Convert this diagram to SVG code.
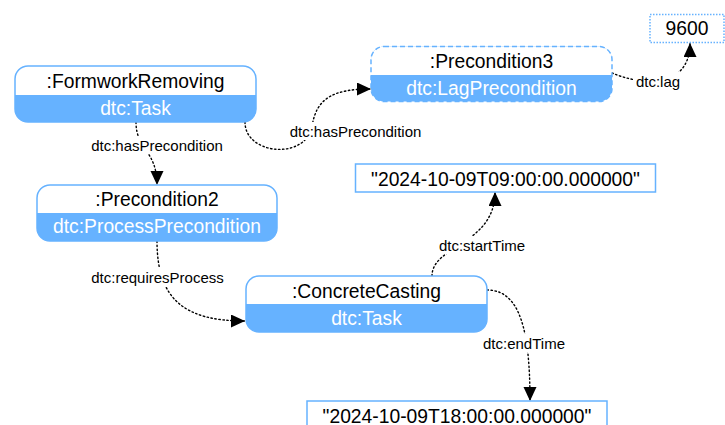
<svg xmlns="http://www.w3.org/2000/svg" width="725" height="425" viewBox="0 0 725 425">
<defs>
<style>
.band{fill:#66b2ff}
.top{fill:#ffffff}
.border{fill:none;stroke:#66b2ff;stroke-width:1.5}
.dashed{stroke-dasharray:5 3}
.dotted{stroke-dasharray:1.5 1.5}
.title{font-family:"Liberation Sans",Arial,sans-serif;font-size:19.3px;fill:#000;text-anchor:middle}
.sub{font-family:"Liberation Sans",Arial,sans-serif;font-size:19.3px;fill:#ffffff;text-anchor:middle}
.lit{fill:#ffffff;stroke:#66b2ff;stroke-width:1.5}
.edge{fill:none;stroke:#000;stroke-width:1.4;stroke-dasharray:1.4 2.6;stroke-linecap:round}
.lbg{fill:#ffffff}
.elabel{font-family:"Liberation Sans",Arial,sans-serif;font-size:15px;fill:#000;text-anchor:middle}
</style>
<marker id="arr" markerUnits="userSpaceOnUse" markerWidth="15" markerHeight="14" refX="14" refY="6.5" orient="auto">
<path d="M0,0 L14,6.5 L0,13 z" fill="#000"/>
</marker>
</defs>
<rect width="725" height="425" fill="#ffffff"/>

<g id="connectors">
<path class="edge" d="M136,122 C136,150 157,150 157,185" marker-end="url(#arr)"/>
<path class="edge" d="M245,122 C245,155 305,160 312,127 C316,97 335,89 371,89" marker-end="url(#arr)"/>
<path class="edge" d="M612,73 C640,85 690,90 690,43" marker-end="url(#arr)"/>
<path class="edge" d="M157,241 C157,300 185,321 245,321" marker-end="url(#arr)"/>
<path class="edge" d="M432,276 C432,245 495,245 495,192" marker-end="url(#arr)"/>
<path class="edge" d="M487,290 C520,290 530,330 530,401" marker-end="url(#arr)"/>
<rect class="lbg" x="90" y="136" width="134" height="18"/>
<text class="elabel" x="157" y="150.5">dtc:hasPrecondition</text>
<rect class="lbg" x="288" y="122" width="135" height="18"/>
<text class="elabel" x="355.5" y="136.5">dtc:hasPrecondition</text>
<rect class="lbg" x="634" y="72" width="48" height="18"/>
<text class="elabel" x="658" y="86.5">dtc:lag</text>
<rect class="lbg" x="90" y="268" width="135" height="18"/>
<text class="elabel" x="157.5" y="282.5">dtc:requiresProcess</text>
<rect class="lbg" x="438" y="236" width="88" height="18"/>
<text class="elabel" x="482" y="250.5">dtc:startTime</text>
<rect class="lbg" x="481" y="334" width="86" height="18"/>
<text class="elabel" x="524" y="348.5">dtc:endTime</text>
</g>

<g id="FormworkRemoving">
<rect class="band" x="15" y="66" width="241" height="56" rx="13"/>
<path class="top" d="M15,95 V79 A13,13 0 0 1 28,66 H243 A13,13 0 0 1 256,79 V95 Z"/>
<rect class="border" x="15" y="66" width="241" height="56" rx="13"/>
<text class="title" x="135.5" y="87.5">:FormworkRemoving</text>
<text class="sub" x="135.5" y="115">dtc:Task</text>
</g>

<g id="Precondition2">
<rect class="band" x="37" y="185" width="240" height="56" rx="13"/>
<path class="top" d="M37,213 V198 A13,13 0 0 1 50,185 H264 A13,13 0 0 1 277,198 V213 Z"/>
<rect class="border" x="37" y="185" width="240" height="56" rx="13"/>
<text class="title" x="157" y="206">:Precondition2</text>
<text class="sub" x="157" y="233">dtc:ProcessPrecondition</text>
</g>

<g id="Precondition3">
<rect class="band" x="371" y="46.5" width="241" height="55" rx="13"/>
<path class="top" d="M371,75 V59.5 A13,13 0 0 1 384,46.5 H599 A13,13 0 0 1 612,59.5 V75 Z"/>
<rect class="border dashed" x="371" y="46.5" width="241" height="55" rx="13"/>
<text class="title" x="491.5" y="67.5">:Precondition3</text>
<text class="sub" x="491.5" y="95">dtc:LagPrecondition</text>
</g>

<g id="ConcreteCasting">
<rect class="band" x="246" y="276" width="241" height="56" rx="13"/>
<path class="top" d="M246,304 V289 A13,13 0 0 1 259,276 H474 A13,13 0 0 1 487,289 V304 Z"/>
<rect class="border" x="246" y="276" width="241" height="56" rx="13"/>
<text class="title" x="366.5" y="297.5">:ConcreteCasting</text>
<text class="sub" x="366.5" y="325">dtc:Task</text>
</g>

<g id="lag9600">
<rect class="lit dotted" x="650" y="14.5" width="74" height="28"/>
<text class="title" x="687" y="35">9600</text>
</g>

<g id="startTimeLiteral">
<rect class="lit" x="355.5" y="164" width="300" height="28"/>
<text class="title" x="505.5" y="185.5">"2024-10-09T09:00:00.000000"</text>
</g>

<g id="endTimeLiteral">
<rect class="lit" x="307" y="401" width="300" height="28"/>
<text class="title" x="457" y="422.5">"2024-10-09T18:00:00.000000"</text>
</g>
</svg>
